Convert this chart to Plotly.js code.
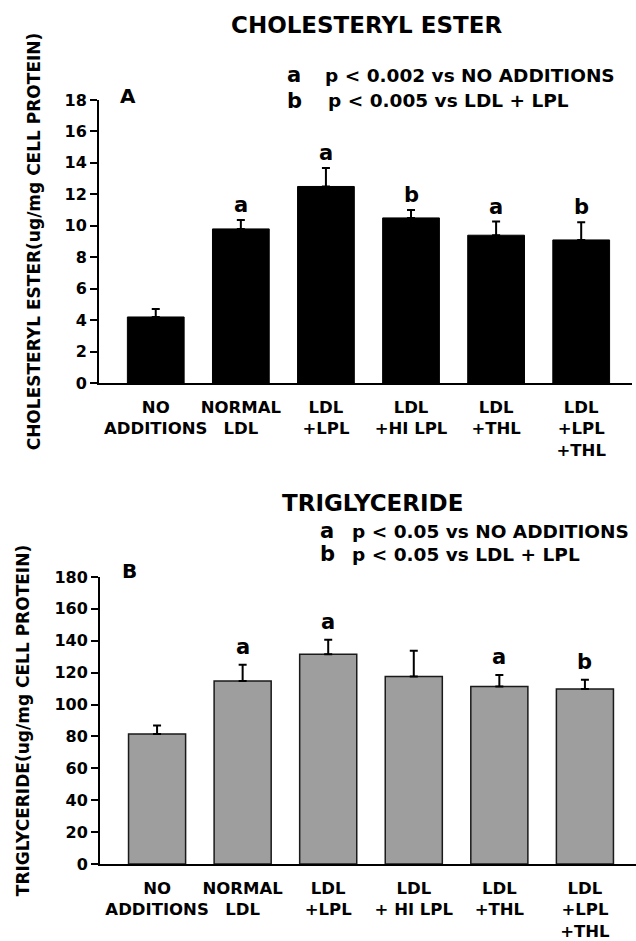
<!DOCTYPE html>
<html>
<head>
<meta charset="utf-8">
<script src="https://cdn.plot.ly/plotly-3.0.1.min.js"></script>
<style>html,body{margin:0;padding:0;background:#fff;}#chart{width:636px;height:941px;}</style>
</head>
<body>
<div id="chart"></div>
<script>
// ---- data ----
const categoriesA = ['NO<br>ADDITIONS', 'NORMAL<br>LDL', 'LDL<br>+LPL', 'LDL<br>+HI LPL', 'LDL<br>+THL', 'LDL<br>+LPL<br>+THL'];
const categoriesB = ['NO<br>ADDITIONS', 'NORMAL<br>LDL', 'LDL<br>+LPL', 'LDL<br>+ HI LPL', 'LDL<br>+THL', 'LDL<br>+LPL<br>+THL'];
const cholesterylEster = [4.2, 9.8, 12.5, 10.5, 9.4, 9.1];
const cholesterylEsterErr = [0.5, 0.57, 1.17, 0.5, 0.87, 1.12];
const triglyceride = [81.6, 114.7, 131.6, 117.6, 111.3, 109.7];
const triglycerideErr = [5.2, 10.2, 9.0, 16.1, 7.3, 5.8];
const sigA = ['', 'a', 'a', 'b', 'a', 'b'];
const sigB = ['', 'a', 'a', '', 'a', 'b'];
const ticksA = [0, 2, 4, 6, 8, 10, 12, 14, 16, 18];
const ticksB = [0, 20, 40, 60, 80, 100, 120, 140, 160, 180];

// ---- layout helpers ----
const W = 636, H = 941;
const px = x => x / W;
const py = y => 1 - y / H;
const FONT = 'DejaVu Sans, Arial, sans-serif';
const bold = (size) => ({family: FONT, size: size, color: '#000', weight: 'bold'});

const traceA = {
  type: 'bar', x: categoriesA, y: cholesterylEster, xaxis: 'x', yaxis: 'y',
  marker: {color: '#000', line: {color: '#000', width: 1}},
  error_y: {type: 'data', symmetric: false, array: cholesterylEsterErr,
            arrayminus: cholesterylEsterErr.map(() => 0), color: '#000', thickness: 2, width: 4},
  hoverinfo: 'none'
};
const traceB = {
  type: 'bar', x: categoriesB, y: triglyceride, xaxis: 'x2', yaxis: 'y2',
  marker: {color: '#9e9e9e', line: {color: '#1a1a1a', width: 1.5}},
  error_y: {type: 'data', symmetric: false, array: triglycerideErr,
            arrayminus: triglycerideErr.map(() => 0), color: '#000', thickness: 2, width: 4},
  hoverinfo: 'none'
};

const xCommon = {
  type: 'category', range: [-0.667, 5.597], showline: true, linewidth: 2, linecolor: '#000',
  ticks: '', tickangle: 0, ticklabelstandoff: 8, showgrid: false, zeroline: false,
  tickfont: bold(16.5), automargin: false, fixedrange: true
};
const yCommon = {
  showline: true, linewidth: 2, linecolor: '#000', ticks: 'outside', ticklen: 7, tickwidth: 2,
  tickcolor: '#000', showgrid: false, zeroline: false, tickfont: bold(16), automargin: false, fixedrange: true
};

const annotations = [];
function addText(x, y, text, size, xanchor) {
  annotations.push({xref: 'paper', yref: 'paper', x: px(x), y: py(y), text: text, showarrow: false,
    xanchor: xanchor || 'center', yanchor: 'middle', font: bold(size)});
}
// titles and legends
addText(366, 25, 'CHOLESTERYL ESTER', 23);
addText(294, 75, 'a', 21);
addText(323, 75, 'p &lt; 0.002 vs NO ADDITIONS', 18.5, 'left');
addText(294, 101, 'b', 21);
addText(326, 101, 'p &lt; 0.005 vs LDL + LPL', 18.5, 'left');
addText(127.5, 96.5, 'A', 20);

addText(372, 503, 'TRIGLYCERIDE', 23);
addText(327, 531, 'a', 21);
addText(350, 531, 'p &lt; 0.05 vs NO ADDITIONS', 18.5, 'left');
addText(327, 554, 'b', 21);
addText(350, 554, 'p &lt; 0.05 vs LDL + LPL', 18.5, 'left');
addText(129.5, 570.5, 'B', 20);

// significance letters
sigA.forEach((s, i) => {
  if (s) annotations.push({xref: 'x', yref: 'y', x: categoriesA[i], y: cholesterylEster[i] + cholesterylEsterErr[i],
    text: s, showarrow: false, yanchor: 'middle', yshift: 15, font: bold(21)});
});
sigB.forEach((s, i) => {
  if (s) annotations.push({xref: 'x2', yref: 'y2', x: categoriesB[i], y: triglyceride[i] + triglycerideErr[i],
    text: s, showarrow: false, yanchor: 'middle', yshift: 18, font: bold(21)});
});

const layout = {
  width: W, height: H, margin: {l: 0, r: 0, t: 0, b: 0}, showlegend: false,
  paper_bgcolor: '#fff', plot_bgcolor: '#fff', bargap: 0.333,
  xaxis: Object.assign({}, xCommon, {domain: [px(99), px(632)], anchor: 'y'}),
  yaxis: Object.assign({}, yCommon, {domain: [py(383), py(100)], anchor: 'x', range: [0, 18],
    tickvals: ticksA, ticktext: ticksA.map(String),
    title: {text: 'CHOLESTERYL ESTER(ug/mg CELL PROTEIN)', font: bold(17), standoff: 20}}),
  xaxis2: Object.assign({}, xCommon, {domain: [px(100), px(636)], anchor: 'y2'}),
  yaxis2: Object.assign({}, yCommon, {domain: [py(864), py(577)], anchor: 'x2', range: [0, 180],
    tickvals: ticksB, ticktext: ticksB.map(String),
    title: {text: 'TRIGLYCERIDE(ug/mg CELL PROTEIN)', font: bold(17), standoff: 20}}),
  annotations: annotations
};

Plotly.newPlot('chart', [traceA, traceB], layout, {displayModeBar: false, staticPlot: true});
</script>
</body>
</html>
